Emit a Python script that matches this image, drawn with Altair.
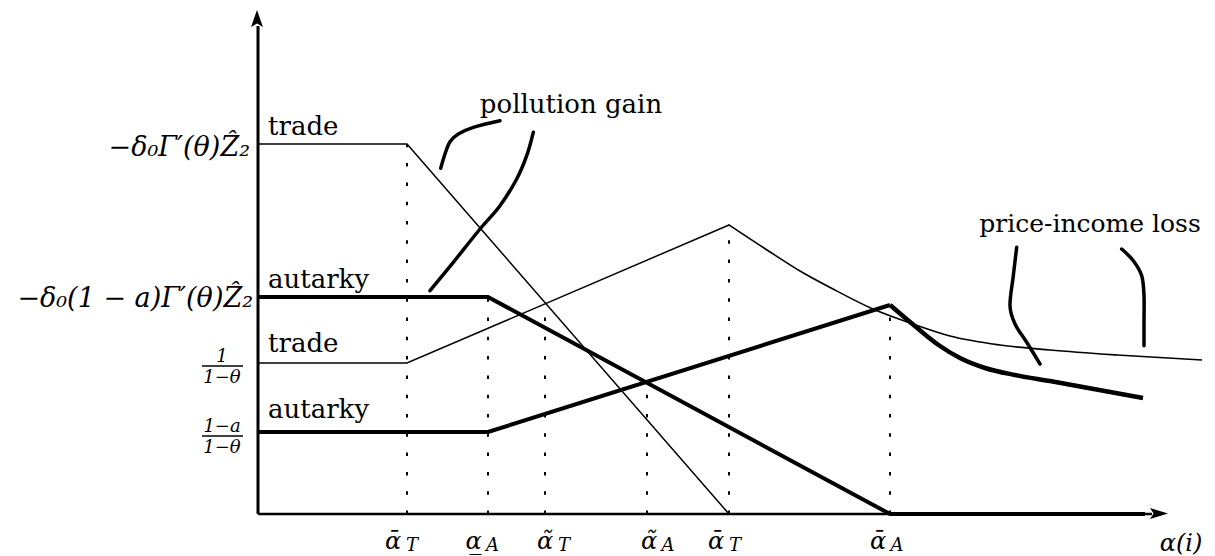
import altair as alt
import pandas as pd

FONT = "DejaVu Serif"

# ---- critical alpha values on the horizontal axis ----
crit_x = [149, 230, 287, 389, 471, 632]          # dotted verticals
crit_top = [370, 217, 211, 132, 290, 209]        # where each dotted line stops
lab_x = [135, 215.5, 287, 391, 458, 620]         # label anchors
lab_main = ["ᾱ", "α\u0332", "α\u0303", "α\u0303", "ᾱ", "ᾱ"]
lab_sub = ["T", "A", "T", "A", "T", "A"]

# ---- pollution gain (trade thin, autarky thick) ----
tp_x = [0, 149, 471]
tp_y = [370, 370, 0]
ap_x = [0, 230, 632, 887]
ap_y = [217, 217, 0, 0]

# ---- price-income loss: straight parts ----
tl_x = [0, 149, 471]
tl_y = [151, 151, 289]
al_x = [0, 230, 632]
al_y = [82, 82, 209]
# ---- price-income loss: curved parts ----
tc_x = [471, 509, 542, 575, 615, 655, 692, 742, 792, 859, 944]
tc_y = [289, 264, 243, 225, 205, 190, 178, 169, 164, 159, 154]
ac_x = [632, 658, 682, 702, 727, 757, 792, 885]
ac_y = [209, 187, 168, 156, 146, 139, 133, 116]

# ---- hand-drawn annotation strokes ----
s1_x = [182.7, 187, 192, 200.3, 215.3, 242]
s1_y = [345.7, 360, 372.3, 380, 386.7, 393.3]
s2_x = [275.3, 268.7, 258.7, 242, 222, 195.3, 172]
s2_y = [381.7, 358.3, 335, 308.3, 285, 251.7, 223.3]
s3_x = [758.7, 755.3, 752, 757, 768.7, 782]
s3_y = [266.7, 238.3, 208.3, 190, 171.7, 150]
s4_x = [863.7, 875.3, 883.7, 886, 886, 886]
s4_y = [265, 253.3, 238.3, 218.3, 191.7, 168.3]

# ---- texts ----
side_text = ["trade", "autarky", "trade", "autarky"]
side_x = [10, 10, 10, 10]
side_y = [379, 226, 162, 96]
ylab_text = ["−δ₀Γ′(θ)Ẑ₂", "−δ₀(1 − a)Γ′(θ)Ẑ₂"]
ylab_x = [-8, -5]
ylab_y = [358, 207]
num_text = ["1", "1−a"]
den_text = ["1−θ", "1−θ"]
frac_x = [-36, -36]
frac_bar_y = [148, 78]
note_text = ["pollution gain", "price-income loss"]
note_x = [313, 832]
note_y = [401, 282]
note_size = [26, 25]

xs = alt.Scale(domain=[-250, 949], nice=False, zero=False)
ys = alt.Scale(domain=[-40, 506], nice=False, zero=False)


def X(f="x"):
    return alt.X(f"{f}:Q", scale=xs, axis=None)


def Y(f="y"):
    return alt.Y(f"{f}:Q", scale=ys, axis=None)


def series(xv, yv, name, w):
    return pd.DataFrame({"x": xv, "y": yv, "s": name, "o": range(len(xv)), "w": w})


lin = pd.concat([
    series(tp_x, tp_y, "tp", 1.5),
    series(ap_x, ap_y, "ap", 4),
    series(tl_x, tl_y, "tl", 1.5),
    series(al_x, al_y, "al", 4),
])
cur = pd.concat([
    series(tc_x, tc_y, "tc", 1.6),
    series(ac_x, ac_y, "ac", 4.5),
])
strokes = pd.concat([
    series(s1_x, s1_y, "s1", 3.5),
    series(s2_x, s2_y, "s2", 3.5),
    series(s3_x, s3_y, "s3", 3.5),
    series(s4_x, s4_y, "s4", 3.5),
])

enc = dict(x=X(), y=Y(), detail="s:N", order="o:Q",
           strokeWidth=alt.StrokeWidth("w:Q", scale=None))

lines_lin = alt.Chart(lin).mark_line(color="black", strokeJoin="miter", strokeCap="butt").encode(**enc)
lines_cur = alt.Chart(cur).mark_line(color="black", interpolate="monotone", strokeCap="butt").encode(**enc)
lines_str = alt.Chart(strokes).mark_line(color="black", interpolate="cardinal", strokeCap="round").encode(**enc)

crit = pd.DataFrame({"x": crit_x, "top": crit_top, "b": [0] * 6})
dots = alt.Chart(crit).mark_rule(color="black", strokeWidth=2, strokeDash=[3.5, 15.8]).encode(
    x=X(), y=Y("b"), y2="top:Q")

axes_df = pd.DataFrame({"x": [0], "y": [0], "xe": [894], "ye": [488]})
xaxis = alt.Chart(axes_df).mark_rule(color="black", strokeWidth=2.5).encode(x=X(), x2="xe:Q", y=Y())
yaxis = alt.Chart(axes_df).mark_rule(color="black", strokeWidth=3).encode(x=X(), y=Y(), y2="ye:Q")

arrow_up = alt.Chart(pd.DataFrame({"x": [-1], "y": [495.5]})).mark_point(
    shape="M0,-1L0.7,1L0,0.6L-0.7,1Z", filled=True, color="black", opacity=1, size=289, strokeWidth=0
).encode(x=X(), y=Y())
arrow_right = alt.Chart(pd.DataFrame({"x": [901], "y": [0.5]})).mark_point(
    shape="M1,0L-1,-0.6L-0.6,0L-1,0.6Z", filled=True, color="black", opacity=1, size=324, strokeWidth=0
).encode(x=X(), y=Y())

labs = pd.DataFrame({"x": lab_x, "y": [-28] * 6, "m": lab_main, "sub": lab_sub})
lab_main_l = alt.Chart(labs).mark_text(font=FONT, fontStyle="italic", fontSize=24, baseline="middle",
                                       align="center", color="black").encode(x=X(), y=Y(), text="m:N")
lab_sub_l = alt.Chart(labs).mark_text(font=FONT, fontStyle="italic", fontSize=18, baseline="middle",
                                      align="center", dx=19, dy=4, color="black").encode(x=X(), y=Y(), text="sub:N")
alpha_i = alt.Chart(pd.DataFrame({"x": [923], "y": [-30], "t": ["α(i)"]})).mark_text(
    font=FONT, fontStyle="italic", fontSize=24, baseline="middle", align="center", color="black"
).encode(x=X(), y=Y(), text="t:N")

side = alt.Chart(pd.DataFrame({"x": side_x, "y": side_y, "t": side_text})).mark_text(
    font=FONT, fontSize=26, align="left", baseline="alphabetic", color="black"
).encode(x=X(), y=Y(), text="t:N")
ylabs = alt.Chart(pd.DataFrame({"x": ylab_x, "y": ylab_y, "t": ylab_text})).mark_text(
    font=FONT, fontStyle="italic", fontSize=27, align="right", baseline="alphabetic", color="black"
).encode(x=X(), y=Y(), text="t:N")

frac = pd.DataFrame({"x": frac_x, "y": frac_bar_y, "num": num_text, "den": den_text,
                     "x1": [v - 20 for v in frac_x], "x2": [v + 21 for v in frac_x]})
frac_bar = alt.Chart(frac).mark_rule(color="black", strokeWidth=1.6).encode(x=X("x1"), x2="x2:Q", y=Y())
frac_num = alt.Chart(frac).mark_text(font=FONT, fontStyle="italic", fontSize=18, align="center",
                                     baseline="alphabetic", dy=-4, color="black").encode(x=X(), y=Y(), text="num:N")
frac_den = alt.Chart(frac).mark_text(font=FONT, fontStyle="italic", fontSize=18, align="center",
                                     baseline="top", dy=3, color="black").encode(x=X(), y=Y(), text="den:N")

notes = alt.Chart(pd.DataFrame({"x": note_x, "y": note_y, "t": note_text, "fs": note_size})).mark_text(
    font=FONT, align="center", baseline="alphabetic", color="black"
).encode(x=X(), y=Y(), text="t:N", size=alt.Size("fs:Q", scale=None))

chart = alt.layer(
    dots, xaxis, yaxis, arrow_up, arrow_right,
    lines_lin, lines_cur, lines_str,
    lab_main_l, lab_sub_l, alpha_i, side, ylabs, frac_bar, frac_num, frac_den, notes,
).properties(
    width=1199, height=546, autosize=alt.AutoSizeParams(type="none"),
    padding={"left": 0, "top": 0, "right": 0, "bottom": 4},
    background="white",
).configure_view(stroke=None)

chart.save("out.html", embed_options={"renderer": "svg", "actions": False})
